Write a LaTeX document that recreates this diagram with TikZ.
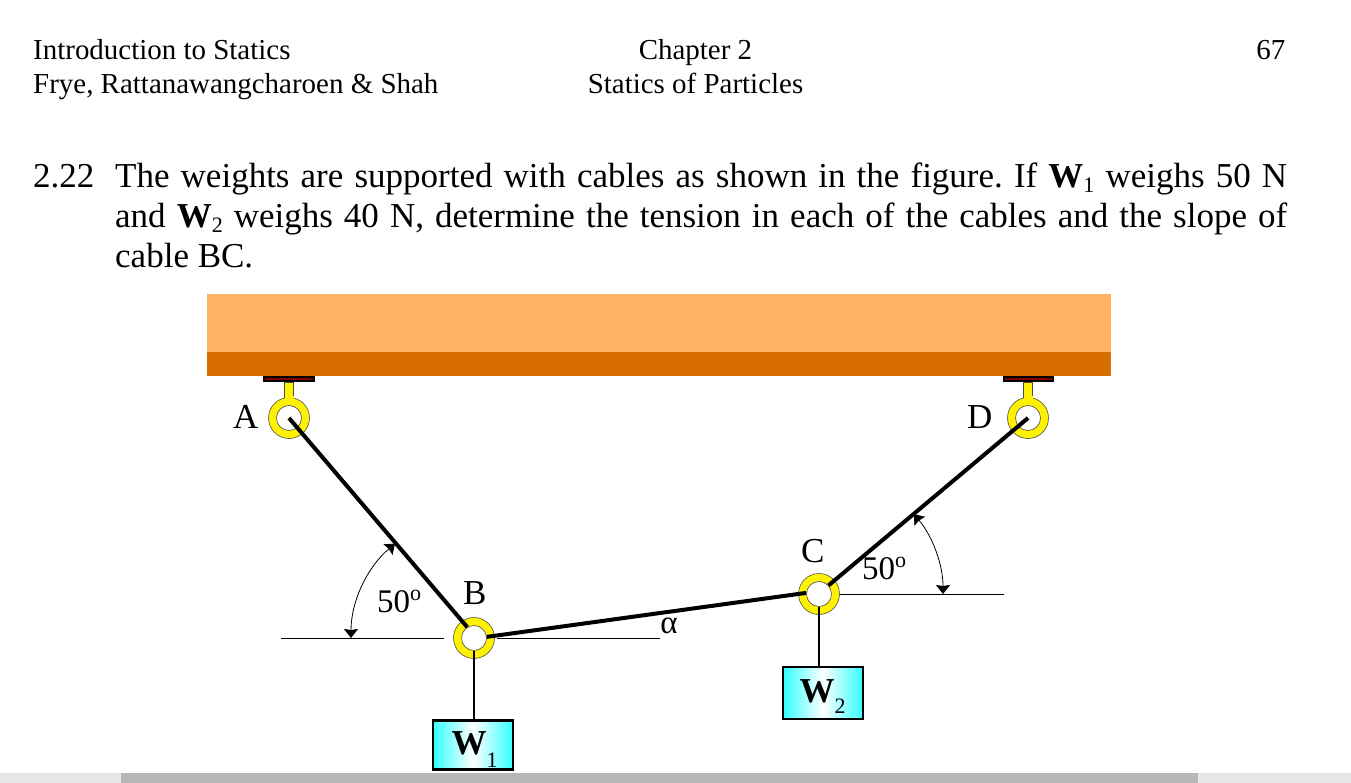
\documentclass[tikz,border=0pt]{standalone}
\usepackage{fontspec}
\setmainfont{Liberation Serif}
\usetikzlibrary{arrows.meta}

\definecolor{beamlight}{HTML}{FFB164}
\definecolor{beamdark}{HTML}{D96E00}
\definecolor{platered}{HTML}{800000}
\definecolor{boxcyan}{HTML}{33FFFF}
\definecolor{barlight}{HTML}{E6E6E6}
\definecolor{bardark}{HTML}{B7B7B7}

\newcommand{\sizehead}{\fontsize{28.95}{34}\selectfont}
\newcommand{\sizebody}{\fontsize{35}{40}\selectfont}
\newcommand{\sizesub}{\fontsize{22}{22}\selectfont}
\newcommand{\subnum}[1]{\raisebox{-5pt}{\sizesub #1}}

\tikzset{
  txt/.style={inner sep=0pt,anchor=base},
  ringout/.style={circle,draw=black!70,line width=0.6pt,fill=yellow,minimum size=41pt,inner sep=0pt},
  ringin/.style={circle,draw=black!70,line width=0.6pt,fill=white,minimum size=25pt,inner sep=0pt},
  stem/.style={draw=black!70,line width=0.6pt,fill=yellow},
  plate/.style={draw=black,line width=1.6pt,fill=platered},
  cable/.style={line width=4pt},
  hang/.style={line width=2.3pt},
  refline/.style={line width=1pt},
  anglearc/.style={line width=0.8pt,{Stealth[length=9pt,width=14pt,inset=1pt]}-{Stealth[length=9pt,width=14pt,inset=1pt]}},
  weight/.style={draw=black,line width=2.6pt,left color=boxcyan,right color=boxcyan,middle color=white,inner sep=0pt,minimum width=80pt}
}

\begin{document}
\begin{tikzpicture}[x=1pt,y=-1pt]
\useasboundingbox (0,0) rectangle (1351,783);

% page header
\node (headA) [txt,anchor=base west] at (33,60) {\sizehead Introduction to Statics};
\node (headB) [txt,anchor=base west] at (33,94) {\sizehead Frye, Rattanawangcharoen \& Shah};
\node (headC) [txt] at (695.5,60) {\sizehead Chapter 2};
\node (headD) [txt] at (695.5,94) {\sizehead Statics of Particles};
\node (headE) [txt,anchor=base east] at (1285.5,60) {\sizehead 67};

% problem text
\node (probnum) [txt,anchor=base west] at (33,188) {\sizebody 2.22};
\node (prob) [inner sep=0pt,anchor=north west,text width=1172pt,align=justify,font=\sizebody\frenchspacing] at (115,163)
  {The weights are supported with cables as shown in the figure. If \textbf{W}\subnum{1} weighs 50 N\linebreak
  and \textbf{W}\subnum{2} weighs 40 N, determine the tension in each of the cables and the slope of\linebreak
  cable BC.};

% beam
\fill[beamlight] (207,294) rectangle (1111,352);
\fill[beamdark] (207,352) rectangle (1111,376);

% hangers
\draw[plate] (264,377) rectangle (314,381);
\draw[plate] (1004,377) rectangle (1053,381);
\draw[stem] (284.5,382) rectangle (293.5,402);
\draw[stem] (1023.5,382) rectangle (1032.5,402);

% rings
\node (Aout) [ringout] at (289,418) {};
\node (Dout) [ringout] at (1028,418) {};
\node (Bout) [ringout] at (474,638) {};
\node (Cout) [ringout] at (819,594) {};
\node (A) [ringin] at (289,418) {};
\node (D) [ringin] at (1028,418) {};
\node (B) [ringin] at (474,638) {};
\node (C) [ringin] at (819,594) {};
\fill[yellow] (284.5,396) rectangle (293.5,402);
\fill[yellow] (1023.5,396) rectangle (1032.5,402);

% weights
\node (W1box) [weight,minimum height=49pt] at (473,745) {};
\node (W2box) [weight,minimum height=52pt] at (823,693) {};

% cables
\draw[cable] (A.center)--(B.122);
\draw[cable] (B.5)--(C.175);
\draw[cable] (C.42)--(D.center);
\draw[hang] (B.south)--(B.south |- W1box.north);
\draw[hang] (C.south)--(C.south |- W2box.north);

% reference lines
\coordinate (BleftA) at (281,638);
\coordinate (BleftB) at (444,638);
\coordinate (BrightA) at (497,638);
\coordinate (BrightB) at (660,638);
\coordinate (CrightA) at (840,594);
\coordinate (CrightB) at (1004,594);
\draw[refline] (BleftA)--(BleftB);
\draw[refline] (BrightA)--(BrightB);
\draw[refline] (CrightA)--(CrightB);

% angle arcs
\draw[anglearc] (B.center) ++(130:123pt) arc[start angle=130,end angle=180,radius=123pt];
\draw[anglearc] (C.center) ++(40:124pt) arc[start angle=40,end angle=0,radius=124pt];

% labels
\node (labA) [txt,anchor=base west] at (233,428) {\sizebody A};
\node (labD) [txt,anchor=base west] at (967,428) {\sizebody D};
\node (labB) [txt,anchor=base west] at (463,604) {\sizebody B};
\node (labC) [txt,anchor=base west] at (801,562) {\sizebody C};
\node (angB) [txt,anchor=base west] at (377,612) {\fontsize{33}{33}\selectfont 50\raisebox{12pt}{\sizesub o}};
\node (angC) [txt,anchor=base west] at (862,579) {\fontsize{33}{33}\selectfont 50\raisebox{12pt}{\sizesub o}};
\node (alpha) [txt] at (669,633) {\fontsize{33}{33}\selectfont α};
\node (W1lab) [txt,anchor=base west] at (451.5,754) {\sizebody\textbf{W}\raisebox{-13pt}{\sizesub 1}};
\node (W2lab) [txt,anchor=base west] at (799.5,702) {\sizebody\textbf{W}\raisebox{-11pt}{\sizesub 2}};

% scroll bar
\fill[barlight] (0,773) rectangle (1351,783);
\fill[bardark] (121,773) rectangle (1198,783);
\end{tikzpicture}
\end{document}
